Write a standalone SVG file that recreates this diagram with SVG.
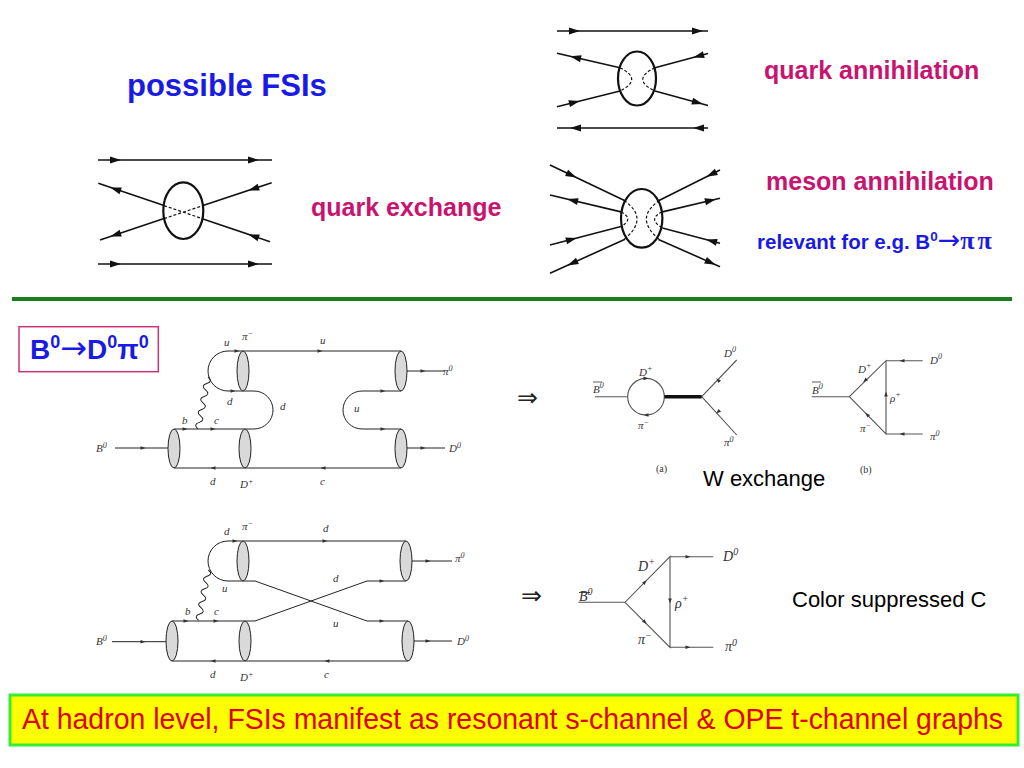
<svg xmlns="http://www.w3.org/2000/svg" xmlns:xlink="http://www.w3.org/1999/xlink" width="1024" height="768" viewBox="0 0 1024 768">
<defs>
<style>
.hd{font-family:"Liberation Sans",Arial,sans-serif;font-weight:bold}
.mag{fill:#c8146e}
.blu{fill:#1a1ae6}
.arw{font-family:"DejaVu Sans",sans-serif;font-weight:normal}
.ln{stroke:#111;stroke-width:1.6;fill:none}
.dash{stroke:#111;stroke-width:1.2;fill:none;stroke-dasharray:3,2}
.ov{stroke:#111;stroke-width:2.2;fill:none}
.q{stroke:#222;stroke-width:1;fill:none}
.cyl{fill:#d9d9d9;stroke:#222;stroke-width:1}
.g{stroke:#555;stroke-width:1.1;fill:none}
.lb{font-family:"Liberation Serif","Times New Roman",serif;font-style:italic;font-size:11px;fill:#333}
.lb2{font-family:"Liberation Serif","Times New Roman",serif;font-style:italic;font-size:14px;fill:#333}
.sm{font-family:"Liberation Serif","Times New Roman",serif;font-size:10px;fill:#333}
.rg{font-family:"Liberation Sans",Arial,sans-serif;font-size:22px;fill:#000}
</style>
<path id="ah" d="M5,0 L-6,-3.5 L-6,3.5 z" fill="#111"/>
<path id="sa" d="M2.5,0 L-2.5,-1.8 L-2.5,1.8 z" fill="#333"/>
</defs>
<rect width="1024" height="768" fill="#fff"/>

<g id="title"><text x="127" y="96" class="hd blu" font-size="31">possible FSIs</text></g>

<g id="quark-exchange">
<line class="ln" x1="98" y1="160" x2="272" y2="160"/>
<line class="ln" x1="98" y1="264" x2="272" y2="264"/>
<line class="ln" x1="98.3" y1="183.3" x2="164" y2="205.6"/>
<line class="ln" x1="203" y1="218.9" x2="270" y2="241.7"/>
<line class="dash" x1="164" y1="205.6" x2="203" y2="218.9"/>
<line class="ln" x1="100" y1="240" x2="164" y2="218.6"/>
<line class="ln" x1="203" y1="205.6" x2="271.7" y2="182.7"/>
<line class="dash" x1="164" y1="218.6" x2="203" y2="205.6"/>
<ellipse class="ov" cx="183.3" cy="210.7" rx="20" ry="28.3"/>
<use xlink:href="#ah" transform="translate(116,160)"/>
<use xlink:href="#ah" transform="translate(254,160)"/>
<use xlink:href="#ah" transform="translate(116,264)"/>
<use xlink:href="#ah" transform="translate(254,264)"/>
<use xlink:href="#ah" transform="translate(115,189) rotate(198.8)"/>
<use xlink:href="#ah" transform="translate(253,236) rotate(198.8)"/>
<use xlink:href="#ah" transform="translate(115,235) rotate(161.5)"/>
<use xlink:href="#ah" transform="translate(253,189) rotate(161.5)"/>
<text x="311" y="216" class="hd mag" font-size="25">quark exchange</text>
</g>

<g id="quark-annihilation">
<line class="ln" x1="557" y1="31" x2="708" y2="31"/>
<line class="ln" x1="557" y1="128" x2="708" y2="128"/>
<line class="ln" x1="557" y1="53.3" x2="620" y2="67.7"/>
<line class="ln" x1="557" y1="106.7" x2="620" y2="91"/>
<line class="ln" x1="655" y1="67.7" x2="708" y2="53.5"/>
<line class="ln" x1="655" y1="91" x2="708" y2="105.5"/>
<path class="dash" d="M620,67.7 Q643.4,79.4 620,91"/>
<path class="dash" d="M655,67.7 Q630.6,79.4 655,91"/>
<ellipse class="ov" cx="637" cy="78.5" rx="19" ry="27"/>
<use xlink:href="#ah" transform="translate(575,31)"/>
<use xlink:href="#ah" transform="translate(698,31)"/>
<use xlink:href="#ah" transform="translate(575,128) rotate(180)"/>
<use xlink:href="#ah" transform="translate(698,128) rotate(180)"/>
<use xlink:href="#ah" transform="translate(575,57.4) rotate(192.9)"/>
<use xlink:href="#ah" transform="translate(575,102.2) rotate(-14)"/>
<use xlink:href="#ah" transform="translate(698,56.2) rotate(165)"/>
<use xlink:href="#ah" transform="translate(698,102.8) rotate(15.3)"/>
<text x="764" y="79" class="hd mag" font-size="25">quark annihilation</text>
</g>

<g id="meson-annihilation">
<line class="ln" x1="550" y1="165" x2="625" y2="200.8"/>
<line class="ln" x1="550" y1="195" x2="621" y2="211.9"/>
<line class="ln" x1="550" y1="245" x2="621" y2="226.4"/>
<line class="ln" x1="550" y1="273.3" x2="625" y2="239.2"/>
<line class="ln" x1="658.5" y1="200.8" x2="720" y2="170"/>
<line class="ln" x1="662.4" y1="211.9" x2="720" y2="198.3"/>
<line class="ln" x1="662.4" y1="228" x2="720" y2="243.3"/>
<line class="ln" x1="658.5" y1="239.4" x2="720" y2="266.7"/>
<path class="dash" d="M624,200.5 Q650,218.3 624,239.5"/>
<path class="dash" d="M621,211.8 Q634.6,219 621,226.5"/>
<path class="dash" d="M659.4,200.5 Q633.4,218.3 659.4,239.5"/>
<path class="dash" d="M662.4,211.8 Q646.7,219 662.4,227.8"/>
<ellipse class="ov" cx="641.7" cy="218.3" rx="20.7" ry="29.3"/>
<use xlink:href="#ah" transform="translate(572,175.4) rotate(25.5)"/>
<use xlink:href="#ah" transform="translate(572,200.2) rotate(193.4)"/>
<use xlink:href="#ah" transform="translate(572,239.3) rotate(-14.7)"/>
<use xlink:href="#ah" transform="translate(572,263.4) rotate(155.6)"/>
<use xlink:href="#ah" transform="translate(711,174.5) rotate(153.4)"/>
<use xlink:href="#ah" transform="translate(711,200.4) rotate(-13.3)"/>
<use xlink:href="#ah" transform="translate(711,240.9) rotate(194.8)"/>
<use xlink:href="#ah" transform="translate(711,262.7) rotate(24)"/>
<text x="766" y="190" class="hd mag" font-size="25">meson annihilation</text>
<text x="757" y="249" class="hd blu" font-size="20.5">relevant for e.g. B<tspan font-size="13.5" dy="-8">0</tspan><tspan class="arw" font-size="27" dy="8">→</tspan><tspan font-family="Liberation Serif,serif" font-weight="bold" font-size="26" letter-spacing="3">ππ</tspan></text>
</g>

<line id="divider" x1="12" y1="299" x2="1012" y2="299" stroke="#1a801a" stroke-width="4"/>

<g id="decay-title">
<rect x="19" y="326.7" width="139.3" height="45" fill="#fff" stroke="#cc3377" stroke-width="1.5"/>
<text x="30" y="358.5" class="hd blu" font-size="28">B<tspan font-size="18" dy="-11">0</tspan><tspan class="arw" font-size="32" dy="11">→</tspan><tspan>D</tspan><tspan font-size="18" dy="-11">0</tspan><tspan dy="11">π</tspan><tspan font-size="18" dy="-11">0</tspan></text>
</g>

<g id="quark-diagram-1">
<path class="q" d="M401,351 H228 A20,20 0 0 0 228,391 H254 A19,19 0 0 1 254,429 H174"/>
<path class="q" d="M174,468 H401"/>
<path class="q" d="M401,391 H362 A19,19 0 0 0 362,429 H401"/>
<path class="q" d="M115,448 H168 M407,371 H445 M407,448 H445"/>
<path class="q" transform="translate(208,377) rotate(100.9)" d="M0,0 q3.3,-6 6.6,0 t6.6,0 t6.6,0 t6.6,0 t6.6,0 t6.6,0 t6.6,0 t6.6,0"/>
<ellipse class="cyl" cx="174" cy="448.5" rx="6" ry="19.5"/>
<ellipse class="cyl" cx="245" cy="448.5" rx="6" ry="19.5"/>
<ellipse class="cyl" cx="401" cy="448.5" rx="6" ry="19.5"/>
<ellipse class="cyl" cx="243" cy="371" rx="6" ry="20"/>
<ellipse class="cyl" cx="401" cy="371" rx="6" ry="20"/>
<use xlink:href="#sa" transform="translate(143,448)"/>
<use xlink:href="#sa" transform="translate(237,351)"/>
<use xlink:href="#sa" transform="translate(320,351)"/>
<use xlink:href="#sa" transform="translate(233,391)"/>
<use xlink:href="#sa" transform="translate(185,429)"/>
<use xlink:href="#sa" transform="translate(213,429)"/>
<use xlink:href="#sa" transform="translate(213,468) rotate(180)"/>
<use xlink:href="#sa" transform="translate(323,468) rotate(180)"/>
<use xlink:href="#sa" transform="translate(383,391)"/>
<use xlink:href="#sa" transform="translate(383,429)"/>
<use xlink:href="#sa" transform="translate(423,371)"/>
<use xlink:href="#sa" transform="translate(423,448)"/>
<text class="lb" x="96" y="452">B<tspan font-size="8" dy="-4">0</tspan></text>
<text class="lb" x="224" y="346">u</text>
<text class="lb" x="242" y="340">π<tspan font-size="8" dy="-4">−</tspan></text>
<text class="lb" x="227" y="405">d</text>
<text class="lb" x="182" y="424">b</text>
<text class="lb" x="214" y="424">c</text>
<text class="lb" x="280" y="410">d</text>
<text class="lb" x="210" y="485">d</text>
<text class="lb" x="240" y="488">D<tspan font-size="8" dy="-4">+</tspan></text>
<text class="lb" x="320" y="485">c</text>
<text class="lb" x="320" y="344">u</text>
<text class="lb" x="354" y="412">u</text>
<text class="lb" x="443" y="375">π<tspan font-size="8" dy="-4">0</tspan></text>
<text class="lb" x="449" y="452">D<tspan font-size="8" dy="-4">0</tspan></text>
</g>

<g id="implies-1"><text x="517" y="406" font-family="DejaVu Sans,sans-serif" font-size="25" fill="#222">⇒</text></g>

<g id="hadron-diagram-a">
<path class="g" d="M595,396.7 H627.7 M701.7,396.7 L736.7,360 M701.7,396.7 L736.7,435"/>
<circle class="g" cx="646" cy="396.7" r="18.3"/>
<line x1="664.3" y1="396.7" x2="701.7" y2="396.7" stroke="#111" stroke-width="3.5"/>
<use xlink:href="#sa" transform="translate(646,378.4)"/>
<use xlink:href="#sa" transform="translate(646,415) rotate(180)"/>
<use xlink:href="#sa" transform="translate(718,380) rotate(-133.6)"/>
<use xlink:href="#sa" transform="translate(718,412) rotate(-227)"/>
<line x1="593" y1="382" x2="602" y2="382" stroke="#333" stroke-width="0.8"/>
<text class="lb" x="593" y="393">B<tspan font-size="8" dy="-5">0</tspan></text>
<text class="lb" x="639" y="376">D<tspan font-size="8" dy="-5">+</tspan></text>
<text class="lb" x="638" y="429">π<tspan font-size="8" dy="-4">−</tspan></text>
<text class="lb" x="724" y="357">D<tspan font-size="8" dy="-5">0</tspan></text>
<text class="lb" x="724" y="446">π<tspan font-size="8" dy="-4">0</tspan></text>
<text class="sm" x="656" y="472">(a)</text>
</g>

<g id="hadron-diagram-b">
<path class="g" d="M811.7,396.7 H849.3 L886,360.7 V434 L849.3,396.7 M886,360.7 H922.7 M886,434 H922.7"/>
<use xlink:href="#sa" transform="translate(865,380.6) rotate(135.5)"/>
<use xlink:href="#sa" transform="translate(867,414.4) rotate(-135)"/>
<use xlink:href="#sa" transform="translate(886,394) rotate(-90)"/>
<use xlink:href="#sa" transform="translate(902,360.7) rotate(180)"/>
<use xlink:href="#sa" transform="translate(902,434) rotate(180)"/>
<line x1="812" y1="382" x2="821" y2="382" stroke="#333" stroke-width="0.8"/>
<text class="lb" x="812" y="394">B<tspan font-size="8" dy="-5">0</tspan></text>
<text class="lb" x="858" y="373">D<tspan font-size="8" dy="-5">+</tspan></text>
<text class="lb" x="890" y="402">ρ<tspan font-size="8" dy="-5">+</tspan></text>
<text class="lb" x="860" y="432">π<tspan font-size="8" dy="-4">−</tspan></text>
<text class="lb" x="930" y="364">D<tspan font-size="8" dy="-5">0</tspan></text>
<text class="lb" x="930" y="440">π<tspan font-size="8" dy="-4">0</tspan></text>
<text class="sm" x="860" y="473">(b)</text>
</g>

<g id="labels-mid">
<text x="703" y="486" class="rg">W exchange</text>
<text x="792" y="607" class="rg">Color suppressed C</text>
</g>

<g id="quark-diagram-2">
<path class="q" d="M406,541 H228 A20,20 0 0 0 228,581 H255 L367,621 H408"/>
<path class="q" d="M172,621 H255 L367,581 H406"/>
<path class="q" d="M172,661 H408"/>
<path class="q" d="M112,641.7 H166 M412,561 H452 M414,641 H452"/>
<path class="q" transform="translate(208.3,570) rotate(101)" d="M0,0 q3.2,-6 6.4,0 t6.4,0 t6.4,0 t6.4,0 t6.4,0 t6.4,0 t6.4,0 t6.4,0"/>
<ellipse class="cyl" cx="172" cy="641" rx="6" ry="20"/>
<ellipse class="cyl" cx="245" cy="641" rx="6" ry="20"/>
<ellipse class="cyl" cx="408" cy="641" rx="6" ry="20"/>
<ellipse class="cyl" cx="243" cy="561" rx="6" ry="20"/>
<ellipse class="cyl" cx="406" cy="561" rx="6" ry="20"/>
<use xlink:href="#sa" transform="translate(143,641.7)"/>
<use xlink:href="#sa" transform="translate(235,541)"/>
<use xlink:href="#sa" transform="translate(325,541)"/>
<use xlink:href="#sa" transform="translate(186,621)"/>
<use xlink:href="#sa" transform="translate(216,621)"/>
<use xlink:href="#sa" transform="translate(213,661) rotate(180)"/>
<use xlink:href="#sa" transform="translate(327,661) rotate(180)"/>
<use xlink:href="#sa" transform="translate(382,621)"/>
<use xlink:href="#sa" transform="translate(382,581)"/>
<use xlink:href="#sa" transform="translate(428,561)"/>
<use xlink:href="#sa" transform="translate(428,641)"/>
<text class="lb" x="96" y="645">B<tspan font-size="8" dy="-4">0</tspan></text>
<text class="lb" x="224" y="535">d</text>
<text class="lb" x="242" y="530">π<tspan font-size="8" dy="-4">−</tspan></text>
<text class="lb" x="323" y="532">d</text>
<text class="lb" x="333" y="582">d</text>
<text class="lb" x="222" y="592">u</text>
<text class="lb" x="185" y="615">b</text>
<text class="lb" x="214" y="615">c</text>
<text class="lb" x="333" y="627">u</text>
<text class="lb" x="210" y="678">d</text>
<text class="lb" x="240" y="681">D<tspan font-size="8" dy="-4">+</tspan></text>
<text class="lb" x="324" y="678">c</text>
<text class="lb" x="455" y="562">π<tspan font-size="8" dy="-4">0</tspan></text>
<text class="lb" x="457" y="645">D<tspan font-size="8" dy="-4">0</tspan></text>
</g>

<g id="implies-2"><text x="521" y="604" font-family="DejaVu Sans,sans-serif" font-size="25" fill="#222">⇒</text></g>

<g id="hadron-diagram-c">
<path class="g" d="M578.3,602.3 H625 L670,556.7 V647.3 L625,602.3 M670,556.7 H713.3 M670,647.3 H713.3"/>
<use xlink:href="#sa" transform="translate(645,582) rotate(-45.4)"/>
<use xlink:href="#sa" transform="translate(645,622.3) rotate(45)"/>
<use xlink:href="#sa" transform="translate(670,601) rotate(90)"/>
<use xlink:href="#sa" transform="translate(688,556.7)"/>
<use xlink:href="#sa" transform="translate(688,647.3)"/>
<line x1="579" y1="592.5" x2="590" y2="592.5" stroke="#333" stroke-width="0.9"/>
<text class="lb2" x="579" y="601">B<tspan font-size="10" dy="-6">0</tspan></text>
<text class="lb2" x="638" y="571">D<tspan font-size="10" dy="-6">+</tspan></text>
<text class="lb2" x="675" y="608">ρ<tspan font-size="10" dy="-6">+</tspan></text>
<text class="lb2" x="638" y="644">π<tspan font-size="10" dy="-5">−</tspan></text>
<text class="lb2" x="723" y="561">D<tspan font-size="10" dy="-6">0</tspan></text>
<text class="lb2" x="725" y="651">π<tspan font-size="10" dy="-5">0</tspan></text>
</g>

<g id="banner">
<rect x="10" y="695" width="1008" height="50" fill="#ffff00" stroke="#33ee33" stroke-width="3"/>
<text x="22" y="729" font-family="Liberation Sans,Arial,sans-serif" font-size="28.8" fill="#e00000" textLength="981" lengthAdjust="spacingAndGlyphs">At hadron level, FSIs manifest as resonant s-channel &amp; OPE t-channel graphs</text>
</g>
</svg>
